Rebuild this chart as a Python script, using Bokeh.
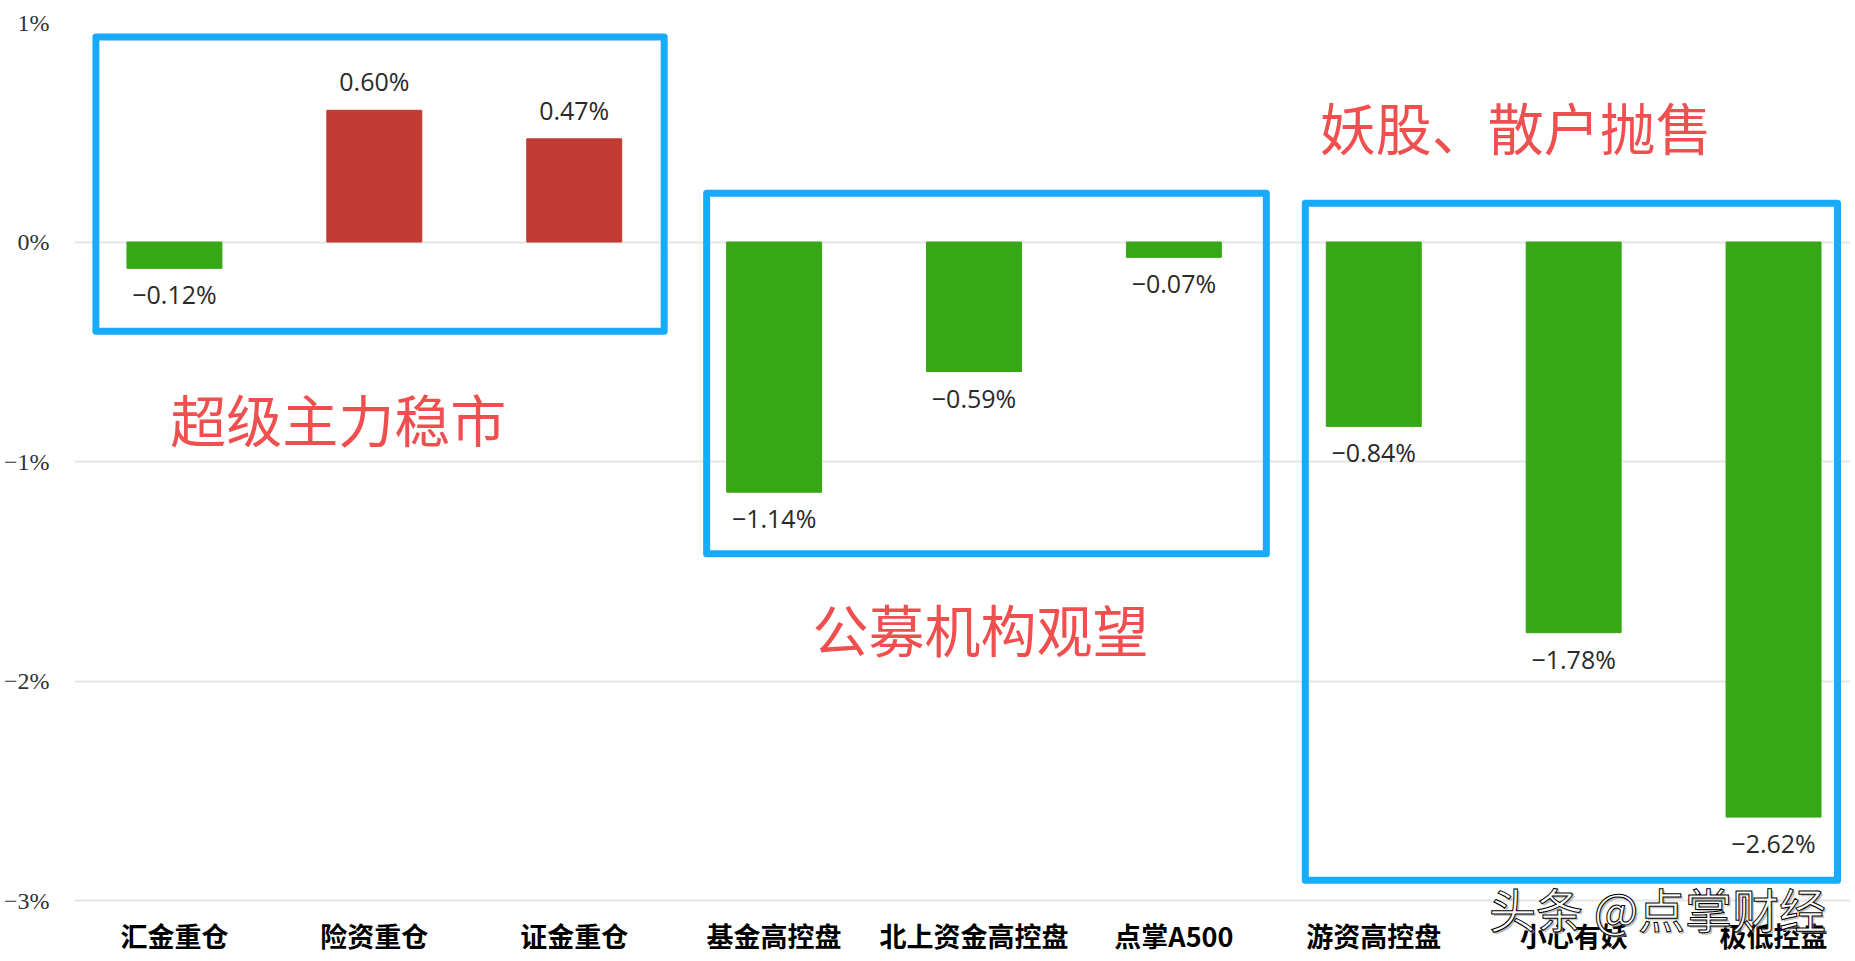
from bokeh.plotting import figure
from bokeh.models import ColumnDataSource, Range1d, FixedTicker
from bokeh.core.properties import value
from bokeh.embed import file_html
from bokeh.resources import INLINE

# ---- data ----
categories = ["汇金重仓", "险资重仓", "证金重仓", "基金高控盘", "北上资金高控盘",
              "点掌A500", "游资高控盘", "小心有妖", "极低控盘"]
changes = [-0.12, 0.60, 0.47, -1.14, -0.59, -0.07, -0.84, -1.78, -2.62]
y_ticks = [-3, -2, -1, 0, 1]
y_tick_labels = ["−3%", "−2%", "−1%", "0%", "1%"]

# group annotations (boxes in category-index / percent units)
box_left = [-0.393, 2.6625, 5.6575]
box_right = [2.45, 5.4625, 8.32]
box_top = [0.934, 0.222, 0.177]
box_bottom = [-0.407, -1.42, -2.908]
note_texts = ["超级主力稳市", "公募机构观望", "妖股、散户抛售"]
note_x = [0.82, 4.032, 6.71]
note_y = [-0.799, -1.758, 0.532]
watermark = "头条 @点掌财经"

# layout constants (data units)
CAT_LABEL_Y = -3.159
WM_X, WM_Y = 7.42, -3.03

RED = "#c13b33"
GREEN = "#36a815"
BLUE = "#19abfb"
NOTE = "#f04f4f"

idx = list(range(len(categories)))
colors = [RED if v > 0 else GREEN for v in changes]
labels = [("%.2f%%" % v).replace("-", "−") for v in changes]
offs = [-29 if v > 0 else 26 for v in changes]

src = ColumnDataSource(dict(x=idx, top=changes, color=colors, label=labels, off=offs))

p = figure(width=1850, height=958, output_backend="svg", toolbar_location=None,
           x_range=Range1d(-0.5, 8.385), y_range=Range1d(-3.2642, 1),
           x_axis_location=None,
           min_border_left=73, min_border_right=0, min_border_top=22, min_border_bottom=0)
p.outline_line_color = None
p.background_fill_color = "white"
p.border_fill_color = "white"

p.xgrid.grid_line_color = None
p.ygrid.grid_line_color = "#e6e6e6"
p.ygrid.grid_line_width = 2
p.ygrid.ticker = FixedTicker(ticks=y_ticks)

p.vbar(x="x", top="top", bottom=0, width=0.475, color="color", source=src)
p.text(x="x", y="top", text="label", y_offset="off", source=src,
       text_align="center", text_baseline="middle",
       text_font=value("Open Sans"), text_font_size="25px", text_color="#2a2a2a")

p.quad(left=box_left, right=box_right, top=box_top, bottom=box_bottom,
       fill_color=None, line_color=BLUE, line_width=7, line_join="round")

p.text(x=note_x, y=note_y, text=note_texts, text_align="center", text_baseline="middle",
       text_font=value("Noto Sans CJK SC"), text_font_size="56px", text_color=NOTE)

# category labels (x axis)
p.text(x=idx, y=[CAT_LABEL_Y] * len(idx), text=categories,
       text_align="center", text_baseline="middle",
       text_font=value("Noto Sans CJK SC"), text_font_style="bold",
       text_font_size="27px", text_color="black")

# y axis
p.yaxis.ticker = FixedTicker(ticks=y_ticks)
p.yaxis.major_label_overrides = {t: s for t, s in zip(y_ticks, y_tick_labels)}
p.yaxis.axis_line_color = None
p.yaxis.major_tick_line_color = None
p.yaxis.minor_tick_line_color = None
p.yaxis.major_tick_out = 0
p.yaxis.major_tick_in = 0
p.yaxis.major_label_standoff = 25
p.yaxis.major_label_text_font = "Liberation Serif"
p.yaxis.major_label_text_font_size = "24px"
p.yaxis.major_label_text_color = "#333333"

# watermark (shadow + outlined text)
p.text(x=[WM_X], y=[WM_Y], text=[watermark], x_offset=2, y_offset=2,
       text_align="center", text_baseline="middle",
       text_font=value("Noto Sans CJK SC"), text_font_size="47px",
       text_color="#9a9a9a", text_alpha=0.6)
p.text(x=[WM_X], y=[WM_Y], text=[watermark],
       text_align="center", text_baseline="middle",
       text_font=value("Noto Sans CJK SC"), text_font_size="47px",
       text_color="white", text_outline_color="black")

open("out.html", "w").write(file_html(p, INLINE))
